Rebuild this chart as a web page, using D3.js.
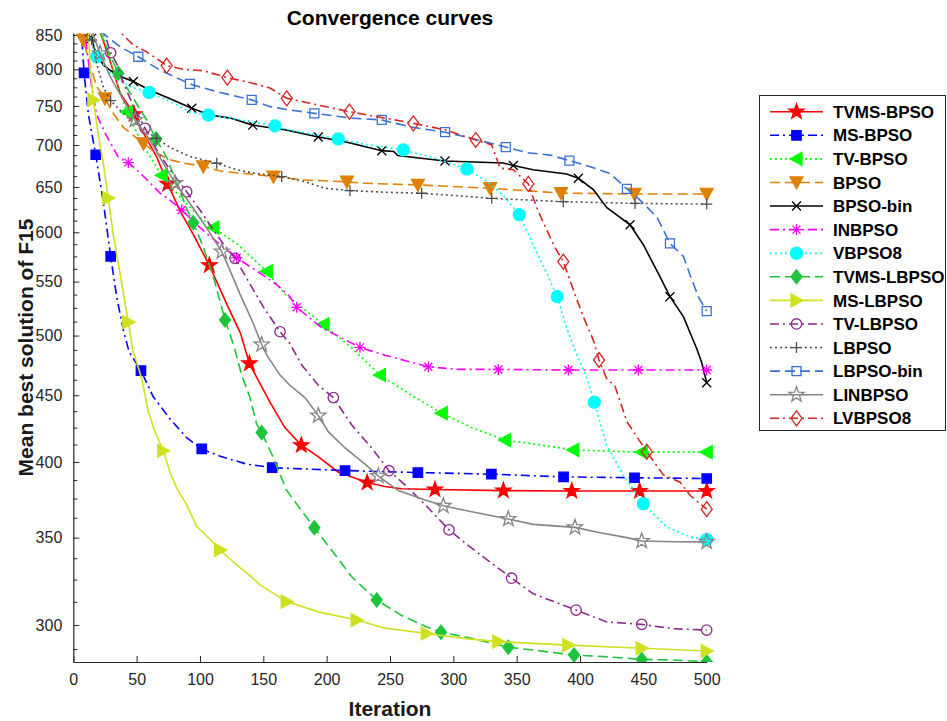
<!DOCTYPE html>
<html>
<head>
<meta charset="utf-8">
<script src="https://cdn.jsdelivr.net/npm/d3@7"></script>
<style>
  body { margin: 0; background: #fff; }
  text { font-family: "Liberation Sans", Arial, sans-serif; }
</style>
</head>
<body>
<main></main>
<script>
// Data: [iteration, mean best value]
const seriesNames = ['TVMS-BPSO', 'MS-BPSO', 'TV-BPSO', 'BPSO', 'BPSO-bin', 'INBPSO', 'VBPSO8',
    'TVMS-LBPSO', 'MS-LBPSO', 'TV-LBPSO', 'LBPSO', 'LBPSO-bin', 'LINBPSO', 'LVBPSO8']

const tvmsBpso = [[15,900],[22,850],[28,818],[37,767],[48,739],[54,719],[66,685],[74.5,653.5],[84,624],[95,597],[107.4,566],[121,529],[132,502],[139,476],[145,464],[155,445],[167,425],[180,412],[193,404],[209,393],[232,385.7],[246,383],[259,381.5],[285.5,381],[339.5,380.3],[393.5,380],[447,380],[500,380]]
const tvmsBpsoMarks = [48,74.5,107.4,139,180,232,285.5,339.5,393.5,447,500]

const msBpso = [[4,900],[6.6,850],[8.5,795],[11.8,740],[17.7,688],[23.7,633],[29.5,575],[34.3,535],[39.5,505],[44,486],[53.4,470],[63,449],[76,432],[89.5,417.5],[101.4,409.3],[116,404],[137,398.5],[157,396],[214.5,394],[272,392.6],[330,391.5],[387,389.6],[443,389],[500,388.5]]
const msBpsoMarks = [8.5,17.7,29.5,53.4,101.4,157,214.5,272,330,387,443,500]

const tvBpso = [[20,880],[23.4,850],[33,790],[42.2,742],[55,700],[69.8,663.5],[84,639],[100,616],[110.5,605],[129,588],[152.7,560],[167,538],[197.4,510],[220,489],[242,466.4],[267,450],[290.8,436],[314.5,425],[340.8,415.8],[363,413],[394.7,408.6],[448.7,407],[500,407]]
const tvBpsoMarks = [42.2,69.8,110.5,152.7,197.4,242,290.8,340.8,394.7,448.7,500]

const bpso = [[3,880],[5.3,850],[7.9,842.5],[13,808],[18.5,776],[25,760],[31.6,740],[39.5,722],[47.4,712],[55.3,702],[65.8,690],[76,682],[87,678],[102.6,674],[118,668],[139.5,665],[158,662],[183,658],[216,656],[228,654.3],[272,652.4],[329,648.5],[385,643],[443,642],[500,642]]
const bpsoMarks = [7.9,25,55.3,102.6,158,216,272,329,385,443,500]

const bpsoBin = [[10,880],[11.8,850],[14.5,845],[17,828],[23.7,806],[34.3,792],[47.4,783],[60.5,771],[76,760],[93.5,747],[108,738],[124,734],[141.6,725],[158,721],[167,719],[193.4,710],[214.5,704],[243.5,693],[253,692],[256,687],[293.4,680.5],[339.5,678],[347.4,675],[363,670],[389.5,665],[398.7,660],[410.5,647],[421,627],[439.5,608],[450,587],[463,555],[471,535.5],[481.6,517],[492,489],[496,477],[500,460]]
const bpsoBinMarks = [14.5,47.4,93.5,141.6,193.4,243.5,293.4,347.4,398.7,439.5,471,500]

const inbpso = [[7,900],[9.2,852],[11.8,813],[14.5,775],[18.5,738],[26.4,711],[35.5,685],[43.4,678.5],[50,670],[60.5,655],[68.4,643],[76.3,635],[85.6,624],[100,605],[110.5,593],[118.4,584.5],[129,573.7],[150,556],[160.6,547],[171,535.5],[176.4,525.6],[196,507],[226.3,489.7],[246,483],[280.3,473.2],[304,471],[335.5,471],[390.8,470.5],[446,470.5],[500,470.5]]
const inbpsoMarks = [43.4,85.6,129,176.4,226.3,280.3,335.5,390.8,446,500]

const vbpso8 = [[10,900],[13,850],[18.5,818],[31.6,790],[44.8,776],[59.8,768],[76.3,756],[92,742],[106.6,738],[123.7,734],[142,729],[159.2,724],[167,720],[209.2,707.5],[233,700],[260.5,694],[285.5,684],[310.6,671],[325,658],[339.5,640],[352,619],[363,587],[373.7,558],[382,535.6],[389.5,506.5],[396,487.4],[405.3,464],[411.3,444.5],[421,412],[434,391],[450,371.6],[468.5,356.6],[487,350.4],[500,348.8]]
const vbpso8Marks = [18.5,59.8,106.6,159.2,209.2,260.5,310.6,352,382,411.3,450,500]

const tvmsLbpso = [[18,900],[22,850],[35.5,794.4],[47.4,760],[58,731.6],[65.3,707.4],[73.7,685],[81.6,654.5],[89.5,626],[94.7,610.3],[102.6,584.5],[110.5,555],[119.8,513.9],[127,490],[133,466],[139.5,448],[144.8,427.5],[148.7,421.3],[158,403],[168,381],[177.6,370],[190.3,356.2],[206.6,339.6],[219.8,326.6],[239.5,313.5],[259.3,305],[277.7,299.3],[290.3,296.2],[314.5,293],[343.4,288.4],[363,287],[395.3,284.5],[423.7,283.5],[448.7,282.3],[473.7,282],[500,281.1]]
const tvmsLbpsoMarks = [35.5,65.3,94.7,119.8,148.7,190.3,239.5,290.3,343.4,395.3,448.7,500]

const msLbpso = [[10,900],[12,850],[13.2,808],[15.8,758],[19.7,712.6],[23.7,678],[27.6,637.4],[31.6,597],[36.9,558],[43.4,512],[47,487],[50,477],[54,463.5],[59.2,437],[64.5,422],[71,408],[76.3,393],[81.6,382],[89.5,371],[97.4,357],[105.3,351],[115.8,342.5],[129,333.5],[142,325.7],[147.4,322],[168.5,312.6],[193.4,307],[223.7,302.6],[246,298.3],[279,295.5],[311.8,292.7],[335.5,291.3],[390.8,289.5],[448.7,287.9],[500,286.5]]
const msLbpsoMarks = [15.8,27.6,43.4,71,115.8,168.5,223.7,279,335.5,390.8,448.7,500]

const tvLbpso = [[20,900],[25,850],[29.5,823.8],[34.3,808],[39.5,781],[47.4,750],[56.6,721],[65.8,694],[76.3,670],[89.5,644.6],[100,624],[110.5,602.5],[118.4,588],[127.7,573.1],[139.5,547.6],[150,526],[163.2,503.4],[171,493],[180.3,474.7],[193.4,458],[205.3,448.1],[219.8,427],[235.6,410],[249.2,393.9],[262,384],[277.7,371],[296.6,354.8],[314.5,343.5],[346,325.8],[363,317],[396.9,308],[421,301.6],[448.7,300.3],[473.7,298],[500,297.3]]
const tvLbpsoMarks = [29.5,56.6,89.5,127.7,163.2,205.3,249.2,296.6,346,396.9,448.7,500]

const lbpso = [[7,880],[9.2,850],[14.5,842.5],[18.5,808],[23.7,775],[29.5,757],[39.5,740],[50,726],[65.8,708.3],[76.3,697],[92,686],[113.2,677.8],[129,670],[144.8,665.6],[164.5,662],[183,656],[198.7,648.5],[218.4,645.8],[246,644],[275,642.8],[304,640],[330.3,637.1],[386.8,633.3],[443.4,631.4],[500,630.6]]
const lbpsoMarks = [14.5,29.5,65.8,113.2,164.5,218.4,275,330.3,386.8,443.4,500]

const lbpsoBin = [[20,880],[23.7,852],[36.9,832.5],[51.3,818],[68.4,799],[92.1,779.6],[113.2,769],[140.8,758],[155.3,749],[171,744.6],[190.3,740.2],[219.8,734],[243.5,731.6],[267,722.5],[293.5,716],[314.5,708],[341.4,697.4],[358,690.6],[376.3,687.6],[391.6,681],[408,673.6],[423.7,665.6],[437,647.7],[447.4,635],[460.6,616.5],[465.8,602.5],[471,588.3],[481.6,575],[487,556],[493.4,535.6],[500,522]]
const lbpsoBinMarks = [51.3,92.1,140.8,190.3,243.5,293.5,341.4,391.6,437,471,500]

const linbpso = [[13,900],[15.8,850],[21.1,822.8],[29,790],[39.5,758],[48.7,731.6],[60.5,706],[71,678],[80.3,654.5],[92,631.5],[102.6,610],[117.2,579.9],[123.7,561],[131.6,538],[142,511],[148.7,492.2],[152.7,483],[163.2,466.3],[171,458],[183,448],[193.4,434.1],[201.3,422],[214.5,410],[230.3,398.5],[240.8,390.2],[256.6,380.3],[277.7,374],[292.1,370.2],[314.5,366.3],[343.4,361.7],[363,358.3],[396,356.4],[415.8,353],[437,350],[448.7,347.9],[473.7,347.5],[500,347.4]]
const linbpsoMarks = [21.1,48.7,80.3,117.2,148.7,193.4,240.8,292.1,343.4,396,448.7,500]

const lvbpso8 = [[33,900],[38.2,852],[47.4,835],[58,825],[73.7,805.4],[86.8,800],[102.6,798],[121.6,788.4],[139.5,781.5],[155.3,774],[168.5,760.1],[188.2,753],[218,742.4],[246,734],[268.4,727.3],[293.4,719],[317.7,706.2],[330.3,700],[336.9,672],[347.4,670],[359.2,653.5],[366,626],[373.7,602.5],[380.3,584],[386.8,569.8],[394.7,542],[402.6,517],[410.5,496],[415,478.9],[421,463.5],[427.7,457],[437,429.5],[452.7,407.3],[465.8,391],[479,386],[487,377],[500,368]]
const lvbpso8Marks = [73.7,121.6,168.5,218,268.4,317.7,359.2,386.8,415,452.7,500]

const seriesData = [tvmsBpso, msBpso, tvBpso, bpso, bpsoBin, inbpso, vbpso8,
    tvmsLbpso, msLbpso, tvLbpso, lbpso, lbpsoBin, linbpso, lvbpso8]
const seriesMarks = [tvmsBpsoMarks, msBpsoMarks, tvBpsoMarks, bpsoMarks, bpsoBinMarks, inbpsoMarks, vbpso8Marks,
    tvmsLbpsoMarks, msLbpsoMarks, tvLbpsoMarks, lbpsoMarks, lbpsoBinMarks, linbpsoMarks, lvbpso8Marks]

const xTicks = [0, 50, 100, 150, 200, 250, 300, 350, 400, 450, 500]
const yTicks = [300, 350, 400, 450, 500, 550, 600, 650, 700, 750, 800, 850]

// Styles, same order as seriesNames
const styles = [
    {color: '#ff0000', dash: null, marker: 'star', fill: true},
    {color: '#0000ff', dash: '9,4,2,4', marker: 'square', fill: true},
    {color: '#00ff00', dash: '2,3', marker: 'triLeft', fill: true},
    {color: '#e08000', dash: '10,5', marker: 'triDown', fill: true},
    {color: '#000000', dash: null, marker: 'x', fill: false},
    {color: '#ff00ff', dash: '9,4,2,4', marker: 'asterisk', fill: false},
    {color: '#00ffff', dash: '2,3', marker: 'circle', fill: true},
    {color: '#1fc43c', dash: '10,5', marker: 'diamond', fill: true},
    {color: '#cfe021', dash: null, marker: 'triRight', fill: true},
    {color: '#8e2a8e', dash: '9,4,2,4', marker: 'circleOpen', fill: false},
    {color: '#505050', dash: '2,3', marker: 'plus', fill: false},
    {color: '#3a70d2', dash: '10,5', marker: 'squareOpen', fill: false},
    {color: '#858585', dash: null, marker: 'star', fill: false},
    {color: '#d42626', dash: '9,4,2,4', marker: 'diamondOpen', fill: false}
]

// Marker shapes
const markerPath = type => {
    const p = d3.path()
    if (type === 'star') {
        for (let k = 0; k < 10; k++) {
            const a = (-90 + 36 * k) * Math.PI / 180
            const r = k % 2 === 0 ? 8 : 3.2
            k === 0 ? p.moveTo(r * Math.cos(a), r * Math.sin(a)) : p.lineTo(r * Math.cos(a), r * Math.sin(a))
        }
        p.closePath()
    } else if (type === 'square') {
        p.rect(-4.7, -4.7, 9.4, 9.4)
    } else if (type === 'squareOpen') {
        p.rect(-4.5, -4.5, 9, 9)
    } else if (type === 'triLeft') {
        p.moveTo(-6.5, 0); p.lineTo(5.5, -6.5); p.lineTo(5.5, 6.5); p.closePath()
    } else if (type === 'triRight') {
        p.moveTo(6.5, 0); p.lineTo(-5.5, -6.5); p.lineTo(-5.5, 6.5); p.closePath()
    } else if (type === 'triDown') {
        p.moveTo(-6.5, -5.5); p.lineTo(6.5, -5.5); p.lineTo(0, 6.5); p.closePath()
    } else if (type === 'circle') {
        p.arc(0, 0, 6, 0, 2 * Math.PI)
    } else if (type === 'circleOpen') {
        p.arc(0, 0, 5.2, 0, 2 * Math.PI)
    } else if (type === 'diamond') {
        p.moveTo(0, -7); p.lineTo(5.5, 0); p.lineTo(0, 7); p.lineTo(-5.5, 0); p.closePath()
    } else if (type === 'diamondOpen') {
        p.moveTo(0, -7.5); p.lineTo(5.5, 0); p.lineTo(0, 7.5); p.lineTo(-5.5, 0); p.closePath()
    } else if (type === 'x') {
        p.moveTo(-4.5, -4.5); p.lineTo(4.5, 4.5); p.moveTo(-4.5, 4.5); p.lineTo(4.5, -4.5)
    } else if (type === 'plus') {
        p.moveTo(-5.5, 0); p.lineTo(5.5, 0); p.moveTo(0, -5.5); p.lineTo(0, 5.5)
    } else if (type === 'asterisk') {
        p.moveTo(-5.5, 0); p.lineTo(5.5, 0); p.moveTo(0, -5.5); p.lineTo(0, 5.5)
        p.moveTo(-4, -4); p.lineTo(4, 4); p.moveTo(-4, 4); p.lineTo(4, -4)
    }
    return p.toString()
}

function GeneratePlot() {
    const totalWidth = 947
    const totalHeight = 721
    const plot = {left: 73.3, right: 706.7, top: 33, bottom: 662}
    const ink = '#262626'

    const x = d3.scaleLinear().domain([0, 500]).range([plot.left, plot.right])
    const y = d3.scaleLog().domain([281, 853]).range([plot.bottom, plot.top])

    const svg = d3.select('main')
        .append('svg')
        .attr('width', totalWidth)
        .attr('height', totalHeight)

    svg.append('defs').append('clipPath')
        .attr('id', 'plot-clip')
        .append('rect')
        .attr('x', plot.left)
        .attr('y', plot.top)
        .attr('width', totalWidth - plot.left)
        .attr('height', plot.bottom - plot.top)

    // Axes
    const minorTicks = d3.range(287.5, 851, 12.5).filter(v => v % 50 !== 0)

    svg.append('g')
        .attr('transform', `translate(${plot.left},0)`)
        .call(d3.axisLeft(y).tickValues(minorTicks).tickSizeInner(-4).tickSizeOuter(0).tickFormat(''))
        .call(g => g.select('.domain').remove())
        .call(g => g.selectAll('line').attr('stroke', ink))

    svg.append('g')
        .attr('transform', `translate(${plot.left},0)`)
        .call(d3.axisLeft(y).tickValues(yTicks).tickSizeInner(-6).tickSizeOuter(0).tickPadding(11).tickFormat(d3.format('d')))
        .call(g => g.select('.domain').attr('stroke', ink).attr('stroke-width', 1.2))
        .call(g => g.selectAll('line').attr('stroke', ink))
        .call(g => g.selectAll('text').attr('fill', ink).style('font-size', '16px'))

    svg.append('g')
        .attr('transform', `translate(0,${plot.bottom})`)
        .call(d3.axisBottom(x).tickValues(xTicks).tickSizeInner(-6).tickSizeOuter(0).tickPadding(12))
        .call(g => g.select('.domain').attr('stroke', ink).attr('stroke-width', 1.2))
        .call(g => g.selectAll('line').attr('stroke', ink))
        .call(g => g.selectAll('text').attr('fill', ink).style('font-size', '16px'))

    // Curves
    const line = d3.line()
        .x(d => x(d[0]))
        .y(d => y(d[1]))

    const curves = svg.append('g').attr('clip-path', 'url(#plot-clip)')

    seriesData.forEach((data, i) => {
        const st = styles[i]
        const g = curves.append('g').classed('series', true)
        g.append('path')
            .datum(data)
            .attr('d', line)
            .attr('fill', 'none')
            .attr('stroke', st.color)
            .attr('stroke-width', 1.6)
            .attr('stroke-dasharray', st.dash)
        const marks = data.filter(d => seriesMarks[i].includes(d[0]))
        g.selectAll('path.marker')
            .data(marks)
            .enter()
            .append('path')
            .classed('marker', true)
            .attr('transform', d => `translate(${x(d[0])},${y(d[1])})`)
            .attr('d', markerPath(st.marker))
            .attr('fill', st.fill ? st.color : 'none')
            .attr('stroke', st.color)
            .attr('stroke-width', 1.3)
    })

    // Title and labels
    svg.append('text')
        .attr('x', (plot.left + plot.right) / 2)
        .attr('y', 25)
        .attr('text-anchor', 'middle')
        .style('font-size', '21px')
        .style('font-weight', 'bold')
        .text('Convergence curves')

    svg.append('text')
        .attr('x', (plot.left + plot.right) / 2)
        .attr('y', 716)
        .attr('text-anchor', 'middle')
        .style('font-size', '21px')
        .style('font-weight', 'bold')
        .attr('fill', '#1a1a1a')
        .text('Iteration')

    svg.append('text')
        .attr('transform', `translate(33,${(plot.top + plot.bottom) / 2}) rotate(-90)`)
        .attr('text-anchor', 'middle')
        .style('font-size', '21px')
        .style('font-weight', 'bold')
        .attr('fill', '#1a1a1a')
        .text('Mean best solution of F15')

    // Legend
    const legend = svg.append('g').classed('legend', true)
    legend.append('rect')
        .attr('x', 759.5)
        .attr('y', 95.5)
        .attr('width', 186)
        .attr('height', 335)
        .attr('fill', '#fff')
        .attr('stroke', ink)
        .attr('stroke-width', 1)

    const rowY = d3.scalePoint().domain(seriesNames).range([111.7, 418.3])

    seriesNames.forEach((name, i) => {
        const st = styles[i]
        const row = legend.append('g').attr('transform', `translate(0,${rowY(name)})`)
        row.append('line')
            .attr('x1', 770).attr('x2', 823)
            .attr('stroke', st.color)
            .attr('stroke-width', 1.6)
            .attr('stroke-dasharray', st.dash)
        row.append('path')
            .attr('transform', 'translate(796.5,0)')
            .attr('d', markerPath(st.marker))
            .attr('fill', st.fill ? st.color : 'none')
            .attr('stroke', st.color)
            .attr('stroke-width', 1.3)
        row.append('text')
            .attr('x', 833)
            .attr('dy', '0.36em')
            .style('font-size', '17px')
            .style('font-weight', 'bold')
            .text(name)
    })
}

GeneratePlot()
</script>
</body>
</html>
